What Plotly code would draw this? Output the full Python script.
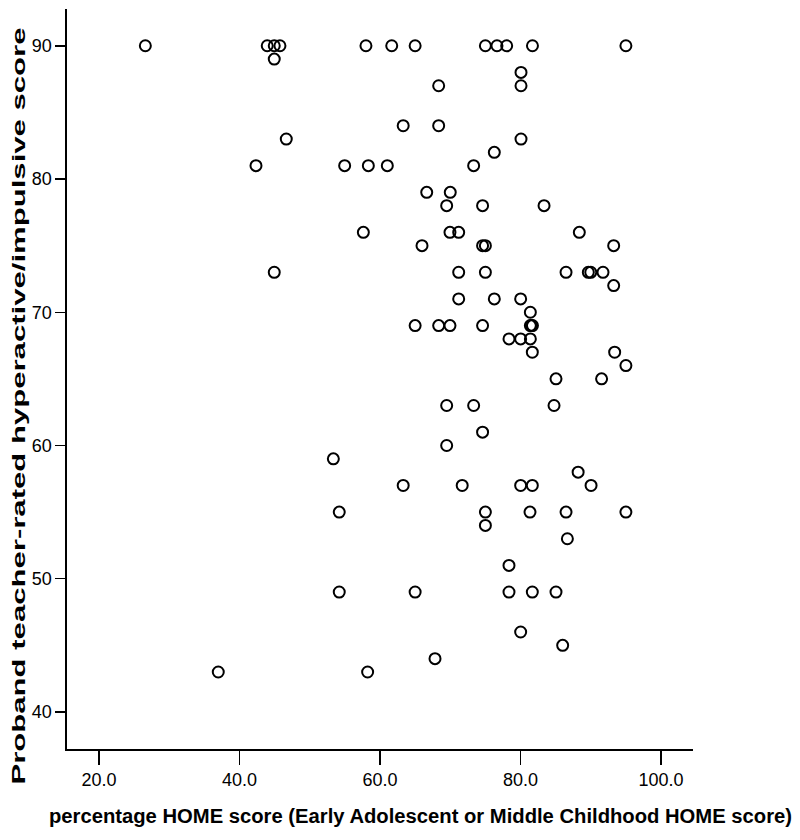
import plotly.graph_objects as go

# Data
home_pct = [
    26.6, 43.95, 44.95, 45.76, 58.0, 61.67, 65.0, 75.0, 76.65, 78.03, 81.7, 95.0,
    44.95,
    80.07,
    68.35, 80.07,
    63.3, 68.35,
    46.66, 80.07,
    76.27,
    42.35, 54.97, 58.34, 61.04, 73.33,
    66.65, 70.0,
    69.49, 74.6, 83.35,
    57.63, 69.96, 71.2, 88.37,
    65.98, 74.6, 75.0, 93.26,
    44.95, 71.2, 75.0, 86.48, 89.65, 90.0, 91.74,
    93.26,
    71.2, 76.27, 80.02,
    81.4,
    65.0, 68.35, 69.96, 74.6, 81.4, 81.55, 81.7,
    78.36, 80.02, 81.4,
    81.68, 93.4,
    95.0,
    85.05, 91.54,
    69.49, 73.33, 84.77,
    74.6,
    69.49,
    53.36,
    88.2,
    63.3, 71.7, 80.02, 81.68, 90.04,
    54.2, 75.0, 81.35, 86.48, 95.0,
    75.0,
    86.67,
    78.36,
    54.2, 65.0, 78.36, 81.68, 85.05,
    80.02,
    86.0,
    67.83,
    36.98, 58.24,
]
hyper_score = (
    [90] * 12 + [89] + [88] + [87] * 2 + [84] * 2 + [83] * 2 + [82] + [81] * 5
    + [79] * 2 + [78] * 3 + [76] * 4 + [75] * 4 + [73] * 7 + [72] + [71] * 3
    + [70] + [69] * 7 + [68] * 3 + [67] * 2 + [66] + [65] * 2 + [63] * 3
    + [61] + [60] + [59] + [58] + [57] * 5 + [55] * 5 + [54] + [53] + [51]
    + [49] * 5 + [46] + [45] + [44] + [43] * 2
)

x_ticks = [20, 40, 60, 80, 100]
y_ticks = [40, 50, 60, 70, 80, 90]
x_title = "percentage HOME score (Early Adolescent or Middle Childhood HOME score)"
y_title = "Proband teacher-rated hyperactive/impulsive score"

fig = go.Figure(
    go.Scatter(
        x=home_pct,
        y=hyper_score,
        mode="markers",
        marker=dict(symbol="circle-open", size=11, color="black",
                    line=dict(color="black", width=2)),
        hoverinfo="x+y",
    )
)

font_main = "Liberation Sans, Arial, Helvetica, sans-serif"

fig.update_layout(
    width=800,
    height=840,
    margin=dict(l=67, r=107, t=9, b=91),
    paper_bgcolor="white",
    plot_bgcolor="white",
    showlegend=False,
    font=dict(family=font_main, color="black"),
)

fig.update_xaxes(
    range=[15.45, 104.55],
    tickvals=x_ticks,
    tickformat=".1f",
    ticks="outside",
    ticklen=14,
    tickwidth=1.5,
    tickcolor="black",
    showline=True,
    linecolor="black",
    linewidth=1.7,
    showgrid=False,
    zeroline=False,
    tickfont=dict(size=18, family=font_main, color="black"),
    automargin=False,
)

fig.update_yaxes(
    range=[37.22, 92.76],
    tickvals=y_ticks,
    ticks="outside",
    ticklen=10,
    tickwidth=1.5,
    tickcolor="black",
    showline=True,
    linecolor="black",
    linewidth=1.7,
    showgrid=False,
    zeroline=False,
    tickfont=dict(size=18, family=font_main, color="black"),
    automargin=False,
)

# Axis titles as annotations so they can sit where the reference puts them
fig.add_annotation(
    text=x_title,
    xref="paper", yref="paper",
    x=0.564, y=-0.090,
    xanchor="center", yanchor="middle",
    showarrow=False,
    font=dict(size=20, family=font_main, color="black", weight="bold"),
)
fig.add_annotation(
    text=y_title,
    xref="paper", yref="paper",
    x=-0.078, y=0.4635,
    xanchor="center", yanchor="middle",
    textangle=-90,
    showarrow=False,
    font=dict(size=18.5, family=font_main, color="black", weight="bold"),
)

# Remove the page's default body margin so the 800x840 figure fills the
# window exactly, and draw the axis titles stretched along their length as
# in the reference (still real SVG text).
post_js = """
document.documentElement.style.margin = '0';
document.documentElement.style.overflow = 'hidden';
document.body.style.margin = '0';
document.body.style.overflow = 'hidden';
var gd = document.getElementById('{plot_id}');
function stretchTitles() {
  var nodes = gd.querySelectorAll('text.annotation-text');
  nodes.forEach(function (t) {
    var s = t.textContent || '';
    if (s.indexOf('Proband') === 0) {
      t.setAttribute('textLength', '757');
      t.setAttribute('lengthAdjust', 'spacingAndGlyphs');
    } else if (s.indexOf('percentage') === 0) {
      t.setAttribute('textLength', '743');
      t.setAttribute('lengthAdjust', 'spacingAndGlyphs');
    }
  });
}
stretchTitles();
if (gd.on) { gd.on('plotly_afterplot', stretchTitles); }
"""

fig.write_html("out.html", post_script=post_js,
               config={"displayModeBar": False, "staticPlot": True})
